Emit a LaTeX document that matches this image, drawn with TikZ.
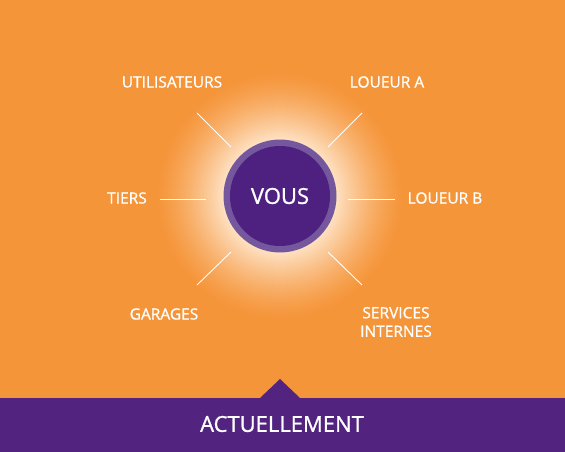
\documentclass[tikz,border=0pt]{standalone}
\usepackage{fontspec}
\setmainfont{Open Sans}
\newfontfamily\semi{Open Sans}[FakeBold=1.0]
\definecolor{bgorange}{HTML}{F5953A}
\definecolor{barpurple}{HTML}{52247F}
\definecolor{coreP}{HTML}{4E2180}
\definecolor{ringP}{HTML}{74579C}
\definecolor{glowc}{HTML}{FEE2C4}
\tikzset{
  lbl/.style={text=white, font=\semi\fontsize{15.5}{18.5}\selectfont, align=center, inner sep=0pt},
  ray/.style={draw=white, line width=0.9pt},
}
\begin{document}
\begin{tikzpicture}[x=1pt,y=-1pt]
\useasboundingbox (0,0) rectangle (565,452);
\fill[bgorange] (0,0) rectangle (565,452);
% glow
\foreach \i in {0,...,69} {
  \pgfmathsetmacro\rr{125-\i}
  \pgfmathsetmacro\tt{100*(\i/69)^1.4}
  \fill[glowc!\tt!bgorange] (280,196) circle (\rr);
}
% bar with notch
\fill[barpurple] (0,452) -- (0,398) -- (260,398) -- (280,379) -- (300,398) -- (565,398) -- (565,452) -- cycle;
\node[text=white, font=\semi\fontsize{22}{26}\selectfont, inner sep=0pt] (act) at (282,424) {ACTUELLEMENT};
% center
\fill[ringP] (280,196) circle (56.5);
\node[circle, fill=coreP, minimum size=100pt, inner sep=0pt, text=white, font=\semi\fontsize{22}{26}\selectfont] (vous) at (280,196) {VOUS};
% rays
\coordinate (ul1) at (197,113); \coordinate (ul2) at (231,147);
\coordinate (ur1) at (362,113); \coordinate (ur2) at (328,147);
\coordinate (l1) at (160,199); \coordinate (l2) at (206,199);
\coordinate (r1) at (348,199); \coordinate (r2) at (395,199);
\coordinate (ll1) at (231,252); \coordinate (ll2) at (197,285);
\coordinate (lr1) at (328,252); \coordinate (lr2) at (362,285);
\draw[ray] (ul1) -- (ul2);
\draw[ray] (ur1) -- (ur2);
\draw[ray] (l1) -- (l2);
\draw[ray] (r1) -- (r2);
\draw[ray] (ll1) -- (ll2);
\draw[ray] (lr1) -- (lr2);
% labels
\node[lbl] (util) at (172,82) {UTILISATEURS};
\node[lbl] (loua) at (387,82) {LOUEUR A};
\node[lbl] (tiers) at (127,198) {TIERS};
\node[lbl] (loub) at (445,198) {LOUEUR B};
\node[lbl] (gar) at (164,314) {GARAGES};
\node[lbl] (serv) at (396,322) {SERVICES\\INTERNES};
\end{tikzpicture}
\end{document}
